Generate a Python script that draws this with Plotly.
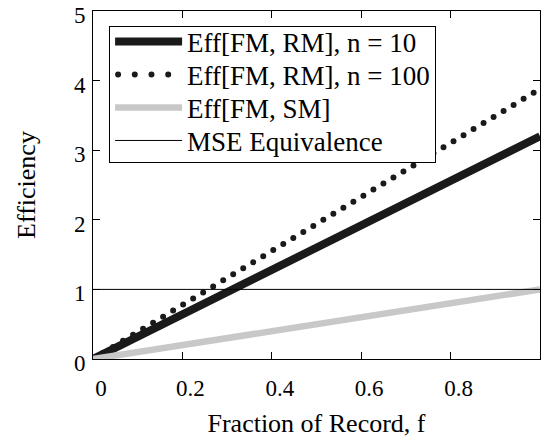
import plotly.graph_objects as go

# Data
fraction = [0.0, 0.2, 0.4, 0.6, 0.8, 1.0]
eff_rm_n10 = [0.0, 0.64, 1.28, 1.92, 2.56, 3.20]
eff_rm_n100 = [0.0, 0.78, 1.55, 2.33, 3.10, 3.88]
eff_sm = [0.0, 0.20, 0.40, 0.60, 0.80, 1.00]
mse_equiv = [1.0, 1.0, 1.0, 1.0, 1.0, 1.0]

x_tickvals = [0, 0.2, 0.4, 0.6, 0.8]
x_ticktext = ["0", "0.2", "0.4", "0.6", "0.8"]
y_tickvals = [0, 1, 2, 3, 4, 5]
y_ticktext = ["0", "1", "2", "3", "4", "5"]

FONT = "Liberation Serif, Times New Roman, serif"

fig = go.Figure()
fig.add_trace(go.Scatter(x=fraction, y=eff_rm_n10, mode="lines",
                         name="Eff[FM, RM], n = 10",
                         line=dict(color="#1a1a1a", width=8)))
fig.add_trace(go.Scatter(x=fraction, y=eff_rm_n100, mode="lines",
                         name="Eff[FM, RM], n = 100",
                         line=dict(color="#1a1a1a", width=6, dash="0px,11.7px")))
fig.add_trace(go.Scatter(x=fraction, y=eff_sm, mode="lines",
                         name="Eff[FM, SM]",
                         line=dict(color="#c8c8c8", width=6.5)))
fig.add_trace(go.Scatter(x=fraction, y=mse_equiv, mode="lines",
                         name="MSE Equivalence",
                         line=dict(color="#000000", width=1)))

axis_common = dict(showline=True, linecolor="#000000", linewidth=1,
                   mirror="ticks", ticks="inside", ticklen=7,
                   tickcolor="#000000", tickwidth=1,
                   showgrid=False, zeroline=False,
                   ticklabeloverflow="allow", ticklabelposition="outside",
                   tickfont=dict(family=FONT, size=23, color="#000000"))

fig.update_layout(
    width=541, height=447,
    margin=dict(l=93, r=1, t=11, b=88, autoexpand=False),
    paper_bgcolor="white", plot_bgcolor="white",
    font=dict(family=FONT, size=26, color="#000000"),
    showlegend=True,
    legend=dict(x=0.036, y=0.957, xanchor="left", yanchor="top",
                bgcolor="white", bordercolor="#000000", borderwidth=1,
                font=dict(family=FONT, size=27, color="#000000"),
                itemwidth=67, tracegroupgap=0),
    xaxis=dict(range=[0, 1], tickmode="array", tickvals=x_tickvals,
               ticktext=x_ticktext, ticklabelstandoff=8, ticklabelshift=8,
               title=dict(text="Fraction of Record, f", standoff=14,
                          font=dict(family=FONT, size=26)),
               automargin=False, **axis_common),
    yaxis=dict(range=[0, 5], tickmode="array", tickvals=y_tickvals,
               ticktext=y_ticktext, ticklabelstandoff=2, ticklabelshift=4,
               title=dict(text="Efficiency", standoff=30,
                          font=dict(family=FONT, size=26)),
               automargin=False, **axis_common),
)

post = """
document.body.style.margin = '0';
document.body.style.padding = '0';
var gd = document.getElementById('{plot_id}');
function fixAll(){
  gd.querySelectorAll('path').forEach(function(p){
    var d = p.style.strokeDasharray || '';
    if (d.indexOf('11.7') !== -1) {
      p.style.strokeLinecap = 'round';
      if (p.closest('.legend')) {
        p.style.strokeDasharray = '0px,16.7px';
        p.style.strokeDashoffset = '-3px';
      }
    }
  });
  var lg = gd.querySelector('.legend');
  if (!lg) return;
  var traces = lg.querySelectorAll('.traces');
  if (traces.length < 2) return;
  var step = 33;
  var m = /translate\\(([-\\d.]+)[ ,]+([-\\d.]+)\\)/.exec(traces[0].getAttribute('transform') || '');
  if (!m) return;
  var x0 = parseFloat(m[1]), y0 = parseFloat(m[2]);
  var bg = lg.querySelector('rect.bg');
  var bgTop = bg.getBoundingClientRect().top;
  var tg = traces[0].querySelector('.legendtoggle') || traces[0];
  var r0 = tg.getBoundingClientRect();
  var c0 = (r0.top + r0.bottom) / 2;
  var dy = (bgTop + 15) - c0;
  for (var i = 0; i < traces.length; i++) {
    traces[i].setAttribute('transform', 'translate(' + x0 + ',' + (y0 + dy + i * step) + ')');
  }
  bg.setAttribute('height', 15 + (traces.length - 1) * step + 22);
}
fixAll();
gd.on('plotly_afterplot', fixAll);
"""

fig.write_html("out.html", post_script=post, config={"displayModeBar": False})

with open("out.html", "r", encoding="utf-8") as fh:
    html = fh.read()
html = html.replace("<head>", "<head><style>html,body{margin:0;padding:0;overflow:hidden;}</style>", 1)
with open("out.html", "w", encoding="utf-8") as fh:
    fh.write(html)
